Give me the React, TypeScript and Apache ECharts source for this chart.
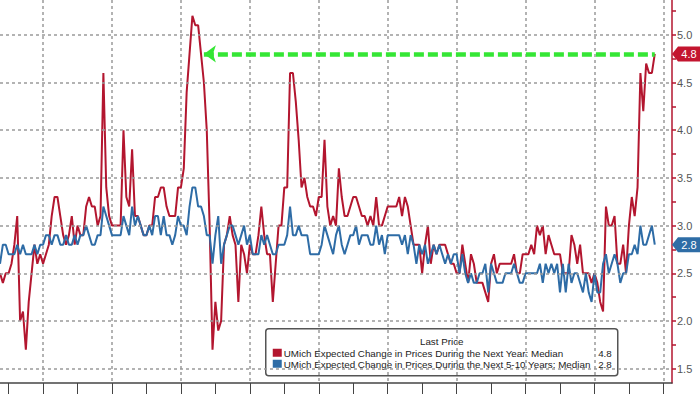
import React, { useEffect, useRef } from "react";
import * as echarts from "echarts";

// Monthly categories, Oct 2002 .. Apr 2022 (axis range)
const START_YEAR = 2002;
const START_MONTH = 10;
const END_YEAR = 2022;
const END_MONTH = 4;
const MONTHS: string[] = [];
for (let y = START_YEAR, m = START_MONTH; y < END_YEAR || (y === END_YEAR && m <= END_MONTH); ) {
  MONTHS.push(`${y}-${String(m).padStart(2, "0")}`);
  m++;
  if (m > 12) { m = 1; y++; }
}

// UMich expected change in prices during the next year: median (Oct 2002 .. Oct 2021)
const NEXT_YEAR: number[] = [
  2.5, 2.4, 2.5, 2.5, 2.6, 2.8, 3.1, 2.0, 2.1, 1.7, 2.2, 2.5,
  2.8, 2.6, 2.7, 2.6, 2.7, 2.8, 3.1, 3.3, 3.3, 3.1, 2.9, 2.8,
  2.9, 3.1, 2.8, 3.0, 2.9, 2.9, 3.2, 3.3, 3.2, 3.2, 3.0, 3.1,
  4.6, 3.4, 3.1, 3.0, 3.0, 3.0, 3.0, 4.0, 3.3, 3.2, 3.8, 3.1,
  3.1, 3.0, 2.9, 2.9, 3.0, 3.0, 3.3, 3.3, 3.4, 3.4, 3.2, 3.1,
  3.1, 3.1, 3.4, 3.4, 3.6, 4.4, 4.8, 5.2, 5.1, 5.1, 4.8, 4.5,
  4.0, 3.0, 1.7, 2.2, 1.9, 2.0, 2.8, 2.9, 3.1, 2.9, 2.8, 2.2,
  2.8, 2.7, 2.5, 2.8, 2.7, 2.7, 2.9, 3.2, 2.9, 2.7, 2.7, 2.2,
  2.6, 3.0, 3.0, 3.4, 3.4, 4.6, 4.6, 4.3, 3.9, 3.4, 3.5, 3.3,
  3.2, 3.2, 3.1, 3.3, 3.3, 3.9, 3.2, 3.0, 3.1, 3.0, 3.6, 3.3,
  3.1, 3.1, 3.2, 3.3, 3.3, 3.2, 3.1, 3.1, 3.0, 3.1, 3.0, 3.3,
  3.0, 3.0, 3.1, 3.2, 3.2, 3.2, 3.2, 3.3, 3.1, 3.3, 3.2, 3.0,
  2.8, 2.8, 2.8, 2.5, 2.8, 3.0, 2.6, 2.8, 2.7, 2.8, 2.8, 2.8,
  2.7, 2.6, 2.6, 2.5, 2.5, 2.8, 2.6, 2.4, 2.7, 2.6, 2.4, 2.4,
  2.4, 2.3, 2.2, 2.6, 2.7, 2.5, 2.6, 2.6, 2.6, 2.6, 2.6, 2.7,
  2.5, 2.5, 2.7, 2.7, 2.7, 2.8, 2.7, 3.0, 2.9, 3.0, 2.7, 2.9,
  2.8, 2.7, 2.7, 2.7, 2.5, 2.5, 2.5, 2.9, 2.8, 2.6, 2.8, 2.5,
  2.5, 2.5, 2.4, 2.5, 2.4, 2.2, 2.1, 3.2, 3.0, 3.0, 3.1, 2.6,
  2.6, 2.8, 2.5, 3.0, 3.3, 3.1, 3.4, 4.6, 4.2, 4.7, 4.6, 4.6, 4.8,
];

// UMich expected change in prices during the next 5-10 years: median
const NEXT_5_10: number[] = [
  2.6, 2.8, 2.8, 2.7, 2.7, 2.7, 2.8, 2.7, 2.8, 2.7, 2.7, 2.7,
  2.8, 2.7, 2.8, 2.8, 2.9, 2.9, 2.8, 2.9, 2.9, 2.8, 2.8, 2.9,
  2.8, 2.8, 2.9, 2.8, 2.9, 2.9, 3.0, 2.9, 2.8, 2.8, 2.9, 2.9,
  3.2, 3.1, 3.0, 2.9, 2.9, 2.9, 2.9, 3.1, 3.0, 2.9, 3.2, 3.0,
  3.1, 3.0, 2.9, 2.9, 3.0, 2.9, 3.1, 3.1, 2.9, 3.1, 2.9, 2.9,
  2.8, 2.9, 3.1, 3.0, 3.0, 2.9, 3.2, 3.4, 3.4, 3.2, 3.2, 3.1,
  2.9, 2.9, 2.6, 2.9, 3.1, 2.6, 2.8, 2.9, 3.0, 3.0, 2.9, 2.8,
  2.9, 3.0, 2.8, 2.9, 2.7, 2.7, 2.7, 2.9, 2.8, 2.9, 2.8, 2.7,
  2.7, 2.8, 2.8, 2.8, 2.9, 3.2, 2.9, 2.9, 3.0, 2.9, 2.9, 2.9,
  2.7, 2.7, 2.7, 2.7, 2.8, 3.0, 2.9, 2.8, 2.7, 2.9, 3.0, 2.8,
  2.7, 2.8, 2.9, 2.9, 3.0, 2.8, 2.9, 2.9, 2.9, 2.8, 2.8, 3.0,
  2.8, 2.9, 2.7, 2.9, 2.9, 2.9, 2.9, 2.9, 2.8, 2.9, 2.7, 2.9,
  2.8, 2.6, 2.8, 2.7, 2.8, 2.6, 2.7, 2.8, 2.7, 2.8, 2.7, 2.6,
  2.7, 2.6, 2.7, 2.7, 2.5, 2.7, 2.5, 2.4, 2.5, 2.4, 2.4, 2.5,
  2.5, 2.6, 2.3, 2.6, 2.5, 2.4, 2.4, 2.4, 2.5, 2.5, 2.5, 2.6,
  2.5, 2.4, 2.4, 2.5, 2.5, 2.5, 2.5, 2.5, 2.6, 2.4, 2.6, 2.5,
  2.6, 2.5, 2.6, 2.3, 2.6, 2.3, 2.6, 2.4, 2.5, 2.5, 2.4, 2.3,
  2.5, 2.3, 2.2, 2.5, 2.3, 2.3, 2.6, 2.7, 2.5, 2.6, 2.7, 2.6,
  2.4, 2.5, 2.5, 2.7, 2.7, 2.8, 2.7, 3.0, 2.8, 2.8, 2.9, 3.0, 2.8,
];

const Y_LABELS: number[] = [1.5, 2.0, 2.5, 3.0, 3.5, 4.0, 4.5, 5.0];
const Y_TICKS: number[] = [1.5, 1.75, 2.0, 2.25, 2.5, 2.75, 3.0, 3.25, 3.5, 3.75, 4.0, 4.25, 4.5, 4.75, 5.0, 5.25];
const ARROW_FROM = "2008-09";

const NAME_1Y = "UMich Expected Change in Prices During the Next Year: Median";
const NAME_5Y = "UMich Expected Change in Prices During the Next 5-10 Years: Median";
const LEGEND_TITLE = "Last Price";

const RED = "#b3162f";
const RED_TAG = "#c3152f";
const BLUE = "#2e6ca6";
const BLUE_TAG = "#2e6da6";
const GREEN = "#35e635";
const GRID_DOT = "#9a9a9a";
const FONT = "Liberation Sans";

export default function App() {
  const ref = useRef<HTMLDivElement>(null);
  useEffect(() => {
    if (!ref.current) return;
    const chart = echarts.init(ref.current, null, { renderer: "svg" });
    const lastIdx = NEXT_YEAR.length - 1;
    const lastMonth = MONTHS[lastIdx];
    const axisEnd = MONTHS[MONTHS.length - 1];
    const last1 = NEXT_YEAR[lastIdx];
    const last5 = NEXT_5_10[NEXT_5_10.length - 1];
    const tagPath = "path://M0,7.5L6,0L28,0L28,15L6,15Z";

    const textStyle = (extra: any) => ({
      fill: "#222",
      fontSize: 9.8,
      fontFamily: FONT,
      verticalAlign: "middle",
      ...extra,
    });

    chart.setOption({
      animation: false,
      grid: { left: 0, right: 28, top: 0, bottom: 11 },
      xAxis: {
        type: "category",
        data: MONTHS,
        boundaryGap: false,
        axisLine: { show: true, lineStyle: { color: "#444", width: 1.5 } },
        axisTick: {
          show: true,
          length: 12,
          interval: (_i: number, v: string) => v.endsWith("-01"),
          lineStyle: { color: "#444", width: 1 },
        },
        axisLabel: { show: false },
        splitLine: {
          show: true,
          interval: (_i: number, v: string) => v.endsWith("-01") && parseInt(v, 10) % 2 === 0,
          lineStyle: { color: GRID_DOT, width: 1.5, type: [3, 3] },
        },
      },
      yAxis: {
        type: "value",
        position: "right",
        min: 1.35,
        max: 5.365,
        axisLine: { show: true, lineStyle: { color: RED, width: 1.5 } },
        axisTick: {
          show: true,
          length: 4,
          customValues: Y_TICKS,
          lineStyle: { color: RED, width: 1.5 },
        },
        axisLabel: {
          show: true,
          customValues: Y_LABELS,
          formatter: (v: number) => v.toFixed(1),
          color: "#555",
          fontSize: 11,
          fontFamily: FONT,
          margin: 5,
        },
        splitLine: { show: false },
      },
      series: [
        {
          name: NAME_1Y,
          type: "line",
          data: NEXT_YEAR,
          symbol: "none",
          z: 2,
          lineStyle: { color: RED, width: 2 },
          itemStyle: { color: RED },
          markLine: {
            silent: true,
            symbol: ["arrow", "none"],
            symbolSize: [13, 12],
            label: { show: false },
            lineStyle: {
              color: GREEN,
              width: 4.5,
              type: [10, 4],
              opacity: 1,
            },
            itemStyle: { color: GREEN },
            data: [[{ coord: [ARROW_FROM, last1] }, { coord: [lastMonth, last1] }]],
          },
          markPoint: {
            silent: true,
            symbol: tagPath,
            symbolSize: [28, 15],
            symbolOffset: [14, 0],
            itemStyle: { color: RED_TAG },
            label: {
              show: true,
              position: "inside",
              offset: [3, 0],
              color: "#fff",
              fontSize: 11,
              fontFamily: FONT,
              formatter: () => last1.toFixed(1),
            },
            data: [{ coord: [axisEnd, last1] }],
          },
        },
        {
          name: NAME_5Y,
          type: "line",
          data: NEXT_5_10,
          symbol: "none",
          z: 3,
          lineStyle: { color: BLUE, width: 2 },
          itemStyle: { color: BLUE },
          markLine: {
            silent: true,
            symbol: ["none", "none"],
            label: { show: false },
            lineStyle: { color: GRID_DOT, width: 1.5, type: [3, 3] },
            data: Y_LABELS.map((v) => ({ yAxis: v })),
          },
          markPoint: {
            silent: true,
            symbol: tagPath,
            symbolSize: [28, 15],
            symbolOffset: [14, 0],
            itemStyle: { color: BLUE_TAG },
            label: {
              show: true,
              position: "inside",
              offset: [3, 0],
              color: "#fff",
              fontSize: 11,
              fontFamily: FONT,
              formatter: () => last5.toFixed(1),
            },
            data: [{ coord: [axisEnd, last5] }],
          },
        },
      ],
      graphic: [
        {
          type: "group",
          left: 265,
          top: 328,
          z: 20,
          children: [
            {
              type: "rect",
              shape: { x: 0, y: 0, width: 352, height: 47, r: 3 },
              style: { fill: "#fff", stroke: "#555", lineWidth: 1.5 },
            },
            { type: "text", x: 176, y: 13, style: textStyle({ text: LEGEND_TITLE, align: "center" }) },
            { type: "rect", shape: { x: 7, y: 20, width: 9, height: 8 }, style: { fill: RED } },
            { type: "text", x: 18, y: 24.5, style: textStyle({ text: NAME_1Y, align: "left" }) },
            { type: "text", x: 346, y: 24.5, style: textStyle({ text: last1.toFixed(1), align: "right" }) },
            { type: "rect", shape: { x: 7, y: 31, width: 9, height: 8 }, style: { fill: BLUE } },
            { type: "text", x: 18, y: 35.5, style: textStyle({ text: NAME_5Y, align: "left" }) },
            { type: "text", x: 346, y: 35.5, style: textStyle({ text: last5.toFixed(1), align: "right" }) },
          ],
        },
      ],
    });
    return () => chart.dispose();
  }, []);
  return (
    <div
      ref={ref}
      style={{ position: "fixed", left: 0, top: 0, width: 700, height: 394, background: "#fff" }}
    />
  );
}
